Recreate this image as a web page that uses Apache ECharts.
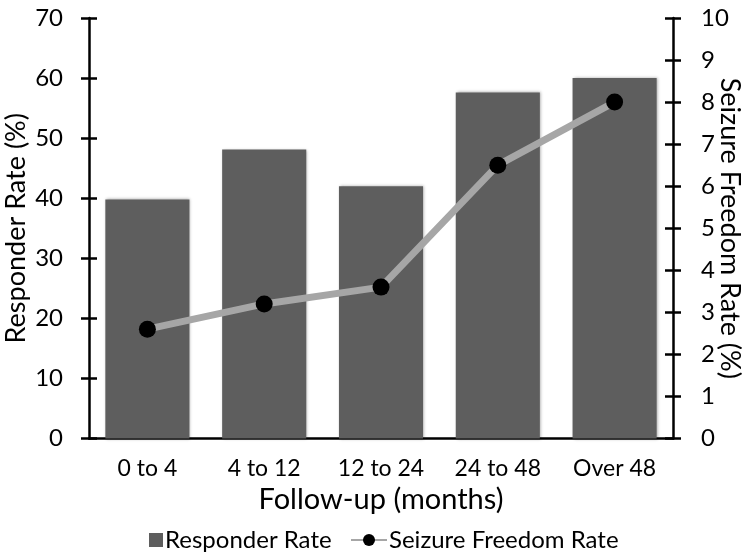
<!DOCTYPE html>
<html><head><meta charset="utf-8">
<script src="https://cdn.jsdelivr.net/npm/echarts@6/dist/echarts.min.js"></script>
<style>html,body{margin:0;padding:0;background:#fff}#c{width:750px;height:555px}</style>
</head><body><div id="c"></div>
<script>
const categories = ['0 to 4', '4 to 12', '12 to 24', '24 to 48', 'Over 48'];
const responderRate = [39.8, 48.1, 42.0, 57.6, 60.0];
const seizureFreedomRate = [2.6, 3.2, 3.6, 6.5, 8.0];
const leftTicks = [0, 10, 20, 30, 40, 50, 60, 70];
const rightTicks = [0, 1, 2, 3, 4, 5, 6, 7, 8, 9, 10];

const FONT = 'Lato';
const chart = echarts.init(document.getElementById('c'), null, {renderer: 'canvas'});
const axisLine = {show: true, lineStyle: {color: '#000', width: 2.5}};
const legendText = {fontFamily: FONT, fontSize: 24, color: '#000', padding: [0, 0, 0, -3]};
chart.setOption({
  animation: false,
  backgroundColor: '#fff',
  textStyle: {fontFamily: FONT, color: '#000'},
  grid: {left: 89, right: 77, top: 18, bottom: 116.5, containLabel: false, outerBoundsMode: 'none'},
  legend: [
    {
      top: 523, left: 144, itemWidth: 14, itemHeight: 14,
      textStyle: legendText,
      data: [{name: 'Responder Rate', icon: 'rect'}]
    },
    {
      top: 523, left: 345, itemWidth: 36, itemHeight: 15,
      textStyle: legendText,
      data: [{name: 'Seizure Freedom Rate'}]
    }
  ],
  xAxis: {
    type: 'category', data: categories,
    axisLine: axisLine, axisTick: {show: false},
    axisLabel: {fontFamily: FONT, fontSize: 23, color: '#000', margin: 19},
    name: 'Follow-up (months)', nameLocation: 'middle', nameGap: 47, nameMoveOverlap: false,
    nameTextStyle: {fontFamily: FONT, fontSize: 29, color: '#000'}
  },
  yAxis: [
    {
      type: 'value', min: leftTicks[0], max: leftTicks[leftTicks.length - 1], interval: 10,
      position: 'left', axisLine: axisLine,
      axisTick: {show: true, length: 8, lineStyle: {color: '#000', width: 2.5}},
      axisLabel: {fontFamily: FONT, fontSize: 24, color: '#000', margin: 26},
      splitLine: {show: false},
      name: 'Responder Rate (%)', nameLocation: 'middle', nameGap: 59, nameMoveOverlap: false,
      nameTextStyle: {fontFamily: FONT, fontSize: 27, color: '#000'}
    },
    {
      type: 'value', min: rightTicks[0], max: rightTicks[rightTicks.length - 1], interval: 1,
      position: 'right', axisLine: axisLine,
      axisTick: {show: true, length: 8, lineStyle: {color: '#000', width: 2.5}},
      axisLabel: {fontFamily: FONT, fontSize: 24, color: '#000', margin: 28},
      splitLine: {show: false},
      name: 'Seizure Freedom Rate (%)', nameLocation: 'middle', nameGap: 43, nameRotate: -90, nameMoveOverlap: false,
      nameTextStyle: {fontFamily: FONT, fontSize: 27, color: '#000'}
    },
    {
      type: 'value', min: leftTicks[0], max: leftTicks[leftTicks.length - 1], interval: 10,
      position: 'left', axisLine: {show: false},
      axisTick: {show: true, inside: true, length: 8, lineStyle: {color: '#000', width: 2.5}},
      axisLabel: {show: false}, splitLine: {show: false}
    },
    {
      type: 'value', min: rightTicks[0], max: rightTicks[rightTicks.length - 1], interval: 1,
      position: 'right', axisLine: {show: false},
      axisTick: {show: true, inside: true, length: 8, lineStyle: {color: '#000', width: 2.5}},
      axisLabel: {show: false}, splitLine: {show: false}
    }
  ],
  series: [
    {
      name: 'Responder Rate', type: 'bar', yAxisIndex: 0, data: responderRate,
      barCategoryGap: '28%',
      itemStyle: {color: '#5e5e5e', shadowBlur: 3, shadowColor: 'rgba(0,0,0,0.35)', shadowOffsetX: 1}
    },
    {
      name: 'Seizure Freedom Rate', type: 'line', yAxisIndex: 1, data: seizureFreedomRate,
      symbol: 'circle', symbolSize: 17, z: 5,
      lineStyle: {color: '#a6a6a6', width: 7},
      itemStyle: {color: '#000', borderWidth: 0}
    }
  ]
});
</script></body></html>
